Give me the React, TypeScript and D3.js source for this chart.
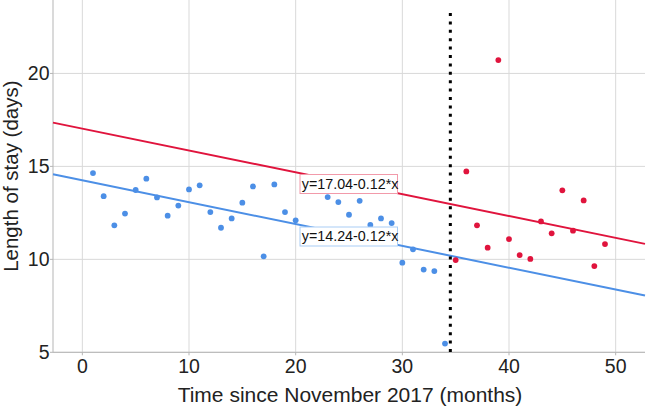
import React from "react";
import * as d3 from "d3";

const monthsBefore = [1,2,3,4,5,6,7,8,9,10,11,12,13,14,15,16,17,18,19,20,23,24,25,26,27,28,29,30,31,32,33,34];
const losBefore = [14.64,13.40,11.83,12.46,13.73,14.34,13.33,12.35,12.89,13.76,13.98,12.54,11.70,12.20,13.05,13.92,10.16,14.03,12.54,12.10,13.35,13.08,12.40,13.15,11.85,12.20,11.95,9.82,10.54,9.45,9.37,5.47];
const monthsAfter = [35,36,37,38,39,40,41,42,43,44,45,46,47,48,49];
const losAfter = [9.96,14.73,11.83,10.63,20.72,11.09,10.23,10.02,12.04,11.40,13.71,11.54,13.17,9.64,10.82];

const fitIntercepts = [14.25, 17.03];
const fitSlope = -0.1175;
const fitLabels = ["y=14.24-0.12*x", "y=17.04-0.12*x"];
const interventionMonth = 34.5;

const xTicks = [0, 10, 20, 30, 40, 50];
const yTicks = [5, 10, 15, 20];

const BLUE = "#4c8fe6";
const RED = "#e0143d";
const FONT = "'Liberation Sans', Arial, sans-serif";

export default function App() {
  const W = 646, H = 409;
  const left = 53, right = 645, top = 0, bottom = 352.3;
  const x = d3.scaleLinear().domain([-2.75, 52.75]).range([left, right]);
  const y = d3.scaleLinear().domain([5, 23.95]).range([bottom, top]);
  const line = d3.line<number>().x((d) => x(d[0])).y((d) => y(d[1]));

  const lineColors = [BLUE, RED];
  const boxStroke = ["#a9cdf5", "#f29aaa"];
  const labelPos = [{ x: 300, y: 227 }, { x: 300, y: 174.5 }];

  return (
    <svg width={W} height={H} style={{ position: "absolute", left: 0, top: 0, background: "#fff" }} fontFamily={FONT}>
      {xTicks.map((t) => (
        <line key={"gx" + t} x1={x(t)} x2={x(t)} y1={top} y2={bottom} stroke="#d9d9d9" strokeWidth={1} />
      ))}
      {yTicks.map((t) => (
        <line key={"gy" + t} x1={left} x2={right} y1={y(t)} y2={y(t)} stroke="#d9d9d9" strokeWidth={1} />
      ))}
      <line x1={left} x2={left} y1={top} y2={bottom} stroke="#b5b5b5" strokeWidth={1} />
      <line x1={left} x2={right} y1={bottom} y2={bottom} stroke="#b5b5b5" strokeWidth={1} />
      {yTicks.map((t) => (
        <line key={"ty" + t} x1={left - 3} x2={left} y1={y(t)} y2={y(t)} stroke="#b5b5b5" />
      ))}
      {xTicks.map((t) => (
        <line key={"tx" + t} x1={x(t)} x2={x(t)} y1={bottom} y2={bottom + 3} stroke="#b5b5b5" />
      ))}
      {yTicks.map((t) => (
        <text key={"ly" + t} x={left - 3.5} y={y(t)} dy="0.36em" textAnchor="end" fontSize={19.5} fill="#222">{t}</text>
      ))}
      {xTicks.map((t) => (
        <text key={"lx" + t} x={x(t)} y={373} textAnchor="middle" fontSize={19.5} fill="#222">{t}</text>
      ))}
      <text x={350} y={402} textAnchor="middle" fontSize={21} fill="#222">Time since November 2017 (months)</text>
      <text transform={`translate(17.5,${(top + bottom) / 2}) rotate(-90)`} textAnchor="middle" fontSize={20.5} fill="#222">Length of stay (days)</text>

      {fitIntercepts.map((b, i) => (
        <path key={"fl" + i} d={line([[-2.75, b + fitSlope * -2.75], [52.75, b + fitSlope * 52.75]]) || ""} stroke={lineColors[i]} strokeWidth={2} fill="none" />
      ))}

      {monthsBefore.map((m, i) => (
        <circle key={"pb" + i} cx={x(m)} cy={y(losBefore[i])} r={2.9} fill={BLUE} />
      ))}
      {monthsAfter.map((m, i) => (
        <circle key={"pa" + i} cx={x(m)} cy={y(losAfter[i])} r={2.9} fill={RED} />
      ))}

      <line x1={x(interventionMonth)} x2={x(interventionMonth)} y1={13} y2={bottom} stroke="#000" strokeWidth={3} strokeDasharray="3,5.4" />

      {fitLabels.map((s, i) => (
        <g key={"lab" + i} transform={`translate(${labelPos[i].x},${labelPos[i].y})`}>
          <rect x={0} y={0} width={97.5} height={19} fill="#fff" stroke={boxStroke[i]} strokeWidth={1} />
          <text x={1.8} y={14} fontSize={14.3} fill="#111">{s}</text>
        </g>
      ))}
    </svg>
  );
}
